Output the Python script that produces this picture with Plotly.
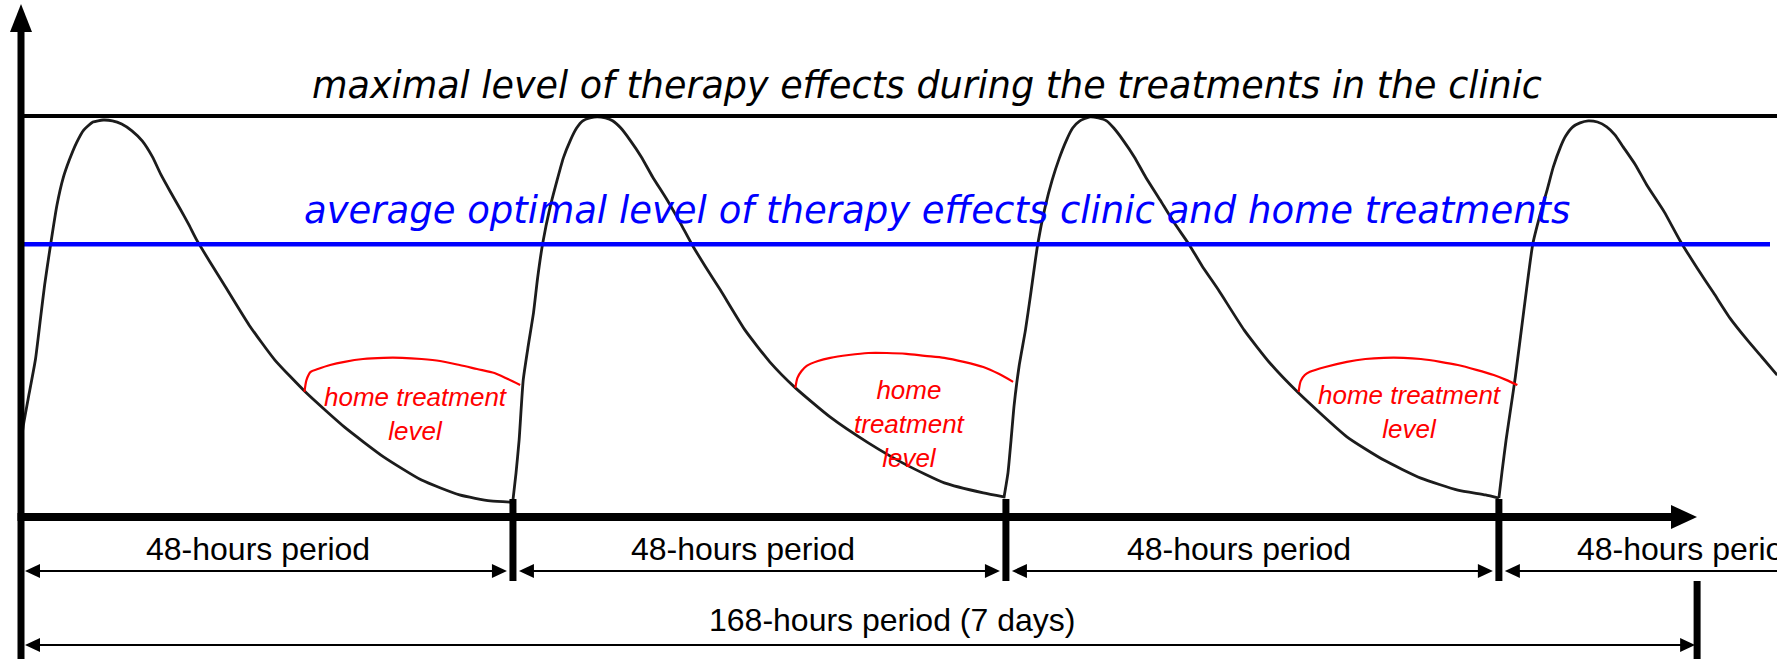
import plotly.graph_objects as go

# ---------------- data (time in hours, therapy-effect level in % of the clinic maximum) ----------------
period_bounds_h = [0, 48, 96, 144]
week_marker_h = 163.3            # where the drawn 168-hours bracket ends in the picture
max_level = 100
optimal_level = 68

cycle1_h = [0.1, 0.3, 0.9, 1.5, 2.0, 2.4, 2.9, 3.6, 4.2, 4.8, 5.5, 6.2, 7.1, 8.1, 9.0, 9.9, 10.9, 11.9,
            12.9, 13.7, 14.6, 15.6, 16.4, 17.2, 18.5, 20.0, 22.3, 24.8, 27.9, 31.6, 35.4, 39.1, 42.8, 45.8, 48.0]
cycle1_lv = [18.0, 22.4, 30.9, 39.2, 49.6, 57.9, 66.6, 77.8, 84.5, 89.0, 93.3, 96.5, 98.5, 99.0, 98.8, 98.0,
             96.3, 93.8, 89.8, 85.5, 81.3, 76.8, 73.1, 69.1, 63.6, 57.4, 47.9, 39.2, 30.9, 22.4, 15.0, 9.2,
             5.5, 4.0, 3.7]

cycle2_h = [48.0, 48.3, 48.6, 49.0, 49.5, 50.0, 50.4, 50.9, 51.6, 52.3, 52.9, 53.6, 54.2, 54.8, 55.5, 56.2,
            57.0, 57.7, 58.5, 59.4, 60.5, 61.6, 63.0, 64.3, 65.4, 66.7, 68.2, 70.6, 73.0, 75.5, 78.9, 82.6,
            86.3, 90.0, 93.8, 95.8]
cycle2_lv = [4.2, 11.0, 19.2, 34.2, 42.9, 50.9, 59.6, 68.3, 77.1, 84.0, 89.5, 94.0, 97.0, 98.8, 99.5, 99.8,
             99.5, 98.8, 97.0, 94.0, 89.8, 84.8, 79.1, 73.3, 68.1, 62.6, 56.6, 46.6, 38.7, 32.2, 24.9, 18.5,
             13.0, 8.5, 6.0, 5.0]

cycle3_h = [95.8, 96.2, 96.5, 96.8, 97.3, 97.9, 98.4, 99.1, 99.8, 100.5, 101.2, 101.9, 102.5, 103.2, 104.2,
            105.0, 105.8, 106.5, 107.4, 108.5, 109.6, 111.0, 112.4, 113.8, 115.1, 116.7, 119.2, 121.7,
            124.5, 129.2, 132.8, 136.4, 140.0, 142.7, 144.0]
cycle3_lv = [4.7, 11.0, 19.2, 27.9, 37.9, 46.6, 55.4, 68.1, 77.1, 84.0, 89.5, 94.0, 97.0, 98.8, 99.8, 99.5,
             98.8, 97.0, 94.0, 89.8, 84.8, 79.1, 73.3, 68.1, 62.6, 56.6, 46.6, 38.4, 30.9, 20.0, 14.2, 9.7,
             6.7, 5.5, 4.7]

cycle4_h = [144.0, 144.3, 144.7, 145.2, 145.6, 146.4, 147.3, 148.0, 148.7, 149.3, 150.0, 150.5, 151.2, 151.9,
            152.7, 153.6, 154.5, 155.3, 156.1, 157.3, 158.4, 160.1, 161.6, 163.3, 164.9, 166.5, 168.2,
            169.6, 171.1]
cycle4_lv = [4.7, 11.2, 19.2, 27.9, 34.9, 50.9, 68.1, 75.3, 81.6, 87.3, 92.3, 95.0, 97.3, 98.3, 98.8, 98.5,
             97.3, 95.3, 92.3, 87.8, 82.8, 76.1, 69.1, 62.1, 55.9, 49.6, 44.1, 39.9, 35.4]

arc1_h = [27.7, 27.9, 28.3, 29.0, 30.2, 31.6, 33.4, 35.4, 37.2, 39.1, 40.9, 42.8, 44.5, 46.2, 47.5, 48.7]
arc1_lv = [31.2, 34.2, 36.2, 36.9, 37.9, 38.7, 39.4, 39.7, 39.7, 39.4, 38.9, 37.9, 36.9, 35.9, 34.4, 32.9]
arc2_h = [75.5, 75.7, 76.1, 76.6, 77.7, 78.9, 80.7, 82.6, 84.4, 86.3, 88.1, 90.0, 91.9, 93.8, 95.3, 96.7]
arc2_lv = [32.2, 34.7, 36.4, 37.7, 38.9, 39.7, 40.4, 40.9, 40.9, 40.7, 40.2, 39.7, 38.7, 37.4, 35.7, 33.7]
arc3_h = [124.5, 124.7, 125.1, 125.6, 127.1, 129.2, 131.0, 132.8, 134.7, 136.4, 138.3, 140.0, 141.8, 143.5,
          144.7, 145.8]
arc3_lv = [31.2, 33.9, 35.4, 36.2, 37.4, 38.7, 39.4, 39.7, 39.7, 39.4, 38.7, 37.9, 36.7, 35.4, 34.2, 32.9]

period_labels = ["48-hours period", "48-hours period", "48-hours period", "48-hours period"]
week_label = "168-hours period (7 days)"
max_label = "maximal level of therapy effects during the treatments in the clinic"
optimal_label = "average optimal level of therapy effects clinic and home treatments"
home_labels = ["home treatment<br>level", "home<br>treatment<br>level", "home treatment<br>level"]

# ---------------- geometry helpers (layout only) ----------------
W, H = 1777, 659
X0, X1 = -1.947, 171.08
Y0, Y1 = -35.41, 128.93


def px2x(px):
    return X0 + px / W * (X1 - X0)


def py2y(py):
    return Y1 - py / H * (Y1 - Y0)


def x2px(x):
    return (x - X0) / (X1 - X0) * W


def tri(p1, p2, p3):
    pts = [p1, p2, p3]
    s = "M " + " L ".join(f"{px2x(a):.4f},{py2y(b):.4f}" for a, b in pts) + " Z"
    return dict(type="path", path=s, xref="x", yref="y", fillcolor="black",
                line=dict(color="black", width=0), layer="above")


def seg(xa, ya, xb, yb, color="black", width=2):
    return dict(type="line", xref="x", yref="y", x0=px2x(xa), y0=py2y(ya), x1=px2x(xb), y1=py2y(yb),
                line=dict(color=color, width=width), layer="above")


fig = go.Figure()

curve_style = dict(color="#1c1c1c", width=2.8, shape="spline", smoothing=0.5)
for hx, lv in [(cycle1_h, cycle1_lv), (cycle2_h, cycle2_lv), (cycle3_h, cycle3_lv), (cycle4_h, cycle4_lv)]:
    fig.add_trace(go.Scatter(x=hx, y=lv, mode="lines", line=curve_style, hoverinfo="skip"))

for hx, lv in [(arc1_h, arc1_lv), (arc2_h, arc2_lv), (arc3_h, arc3_lv)]:
    fig.add_trace(go.Scatter(x=hx, y=lv, mode="lines",
                             line=dict(color="#ff0000", width=2.2, shape="spline", smoothing=0.8),
                             hoverinfo="skip"))

shapes = []
# level lines
shapes.append(dict(type="line", xref="x", yref="y", x0=px2x(20), x1=X1, y0=max_level, y1=max_level,
                   line=dict(color="black", width=4), layer="above"))
shapes.append(dict(type="line", xref="x", yref="y", x0=px2x(20), x1=px2x(1770), y0=optimal_level,
                   y1=optimal_level, line=dict(color="#0000ff", width=4.5), layer="above"))

axis_px = x2px(period_bounds_h[0]) + 1
axis_py = 517
# vertical axis with arrow
shapes.append(seg(axis_px, 28, axis_px, H + 2, width=7))
shapes.append(tri((axis_px, 4), (axis_px - 11, 32), (axis_px + 11, 32)))
# horizontal axis with arrow
shapes.append(seg(axis_px - 3.5, axis_py, 1675, axis_py, width=8))
shapes.append(tri((1697, axis_py), (1671, axis_py - 12), (1671, axis_py + 12)))

# period boundaries
for b in period_bounds_h[1:]:
    bx = x2px(b)
    shapes.append(seg(bx, 499, bx, 581, width=7))
# end of the week bracket
wx = x2px(week_marker_h)
shapes.append(seg(wx, 581, wx, H + 2, width=7))

# 48-hours double arrows
arr_py = 571
ends = [x2px(b) for b in period_bounds_h] + [W + 40]
for i in range(4):
    left = ends[i] + (5 if i == 0 else 6)
    right = ends[i + 1] - 6
    shapes.append(seg(left + 10, arr_py, right - 10, arr_py, width=2))
    shapes.append(tri((left, arr_py), (left + 15, arr_py - 7), (left + 15, arr_py + 7)))
    shapes.append(tri((right, arr_py), (right - 15, arr_py - 7), (right - 15, arr_py + 7)))

# 168-hours double arrow
wk_py = 645
shapes.append(seg(axis_px + 14, wk_py, wx - 14, wk_py, width=2))
shapes.append(tri((axis_px + 4, wk_py), (axis_px + 19, wk_py - 7), (axis_px + 19, wk_py + 7)))
shapes.append(tri((wx - 2, wk_py), (wx - 17, wk_py - 7), (wx - 17, wk_py + 7)))

annotations = []


def label(text, px, py, size, color="black", family="Liberation Sans, Arial, sans-serif"):
    annotations.append(dict(text=text, x=px / W, y=1 - py / H, xref="paper", yref="paper",
                            showarrow=False, xanchor="center", yanchor="middle",
                            font=dict(size=size, color=color, family=family)))


label(f"<i>{max_label}</i>", 927, 86, 36.5, family="DejaVu Sans, sans-serif")
label(f"<i>{optimal_label}</i>", 937, 211, 37, color="#0000ff", family="DejaVu Sans, sans-serif")

period_label_px = [258, 743, 1239, 1689]
for t, cx in zip(period_labels, period_label_px):
    label(t, cx, 549, 32)
label(week_label, 892, 620, 32)

home_pos = [(416, 414), (910, 424), (1410, 412)]
for t, (cx, cy) in zip(home_labels, home_pos):
    label(f"<i>{t}</i>", cx, cy, 26, color="#ff0000")

fig.update_layout(
    width=W, height=H,
    margin=dict(l=0, r=0, t=0, b=0),
    paper_bgcolor="white", plot_bgcolor="white",
    showlegend=False,
    xaxis=dict(range=[X0, X1], visible=False, fixedrange=True),
    yaxis=dict(range=[Y0, Y1], visible=False, fixedrange=True),
    shapes=shapes,
    annotations=annotations,
)

fig.write_html("out.html", config={"displayModeBar": False},
               post_script="document.body.style.margin='0';document.body.style.overflow='hidden';")
